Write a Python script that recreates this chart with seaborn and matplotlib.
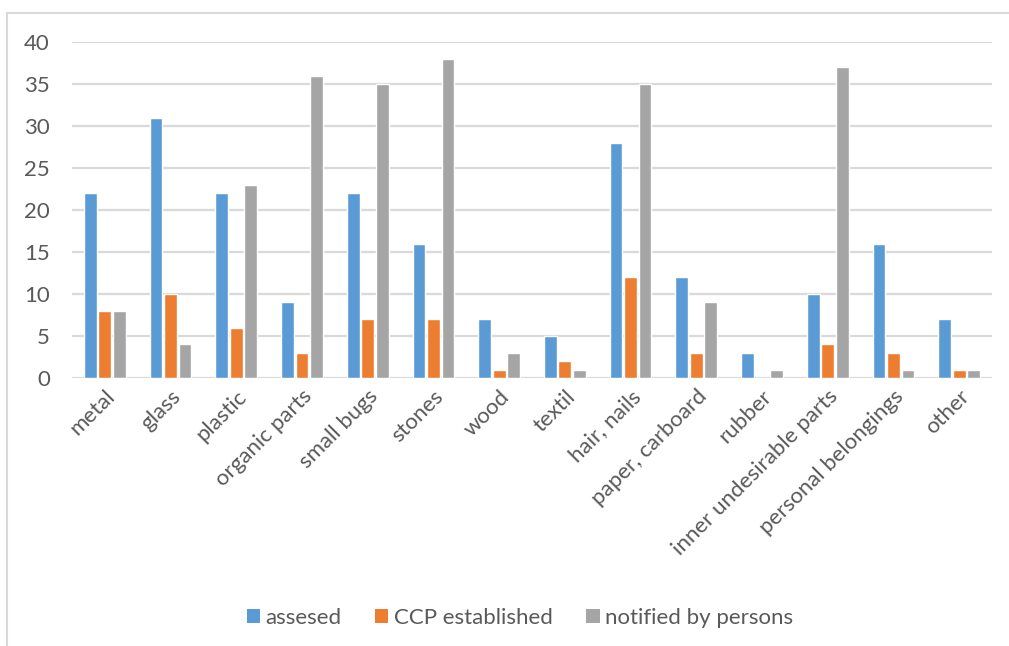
import matplotlib
matplotlib.use("Agg")
import matplotlib.pyplot as plt
from matplotlib.lines import Line2D
from matplotlib.patches import Patch
import seaborn as sns
import pandas as pd

categories = ["metal", "glass", "plastic", "organic parts", "small bugs", "stones",
              "wood", "textil", "hair, nails", "paper, carboard", "rubber",
              "inner undesirable parts", "personal belongings", "other"]
assesed = [22, 31, 22, 9, 22, 16, 7, 5, 28, 12, 3, 10, 16, 7]
ccp_established = [8, 10, 6, 3, 7, 7, 1, 2, 12, 3, 0, 4, 3, 1]
notified_by_persons = [8, 4, 23, 36, 35, 38, 3, 1, 35, 9, 1, 37, 1, 1]

series_names = ["assesed", "CCP established", "notified by persons"]
colors = ["#5B9BD5", "#ED7D31", "#A5A5A5"]
text_color = "#595959"
grid_color = "#D9D9D9"

df = pd.DataFrame({
    "category": categories * 3,
    "series": [series_names[0]] * len(categories)
              + [series_names[1]] * len(categories)
              + [series_names[2]] * len(categories),
    "value": assesed + ccp_established + notified_by_persons,
})

sns.set_theme(style="white")
plt.rcParams["font.family"] = ["Lato", "DejaVu Sans"]

W, H = 1009, 646
fig = plt.figure(figsize=(W / 100, H / 100), dpi=100)
ax = fig.add_axes([72 / W, 1 - 378 / H, (992 - 72) / W, (378 - 42) / H])

sns.barplot(data=df, x="category", y="value", hue="series", order=categories,
            hue_order=series_names, palette=colors, width=0.66, gap=0.12,
            saturation=1, ax=ax, legend=False, errorbar=None)

ax.set_ylim(0, 40)
ax.set_xlim(-0.5, len(categories) - 0.5)
ax.set_yticks(range(0, 41, 5))
ax.yaxis.grid(True, color=grid_color, linewidth=1.6)
ax.set_axisbelow(True)
for s in ax.spines.values():
    s.set_visible(False)
ax.set_xlabel("")
ax.set_ylabel("")
ax.tick_params(axis="y", length=0, pad=16, labelsize=16, labelcolor=text_color)
ax.tick_params(axis="x", length=0, pad=6, labelsize=16, labelcolor=text_color)
plt.setp(ax.get_yticklabels(), ha="right")
ax.set_xticks(range(len(categories)))
ax.set_xticklabels(categories, rotation=45, ha="right", rotation_mode="anchor")

# chart-area frame (left and top edges)
fig.add_artist(Line2D([7 / W, 7 / W], [0, 1 - 13 / H], transform=fig.transFigure,
                      color=grid_color, linewidth=1.5))
fig.add_artist(Line2D([7 / W, 1], [1 - 13 / H, 1 - 13 / H], transform=fig.transFigure,
                      color=grid_color, linewidth=1.5))

handles = [Patch(facecolor=c, edgecolor="none") for c in colors]
fig.legend(handles, series_names, loc="center", bbox_to_anchor=(520 / W, 1 - 618 / H),
           ncol=3, frameon=False, fontsize=16, labelcolor=text_color,
           handlelength=0.6, handleheight=0.6, handletextpad=0.25, columnspacing=1.5)

fig.savefig("out.png", dpi=100, facecolor="white")
